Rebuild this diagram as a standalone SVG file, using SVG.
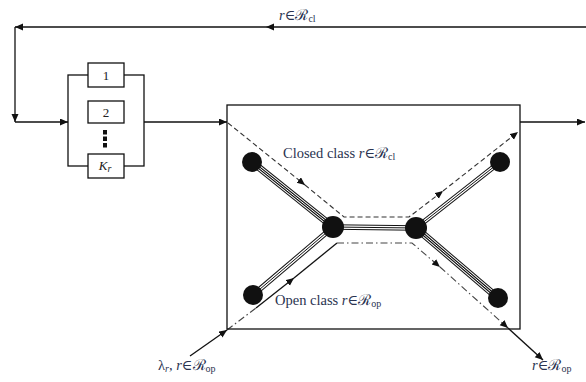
<svg xmlns="http://www.w3.org/2000/svg" width="586" height="382" viewBox="0 0 586 382">
<style>
.ln{fill:none;stroke:#111;stroke-width:1.3}
.dash{fill:none;stroke:#333;stroke-width:1.1;stroke-dasharray:5 3}
.dd{fill:none;stroke:#444;stroke-width:1.1;stroke-dasharray:7 3 1.5 3}
.box{fill:#fff;stroke:#111;stroke-width:1.3}
.nd{fill:#111}
.t{font-family:"Liberation Serif","DejaVu Serif",serif;font-size:14.5px;fill:#2a3350}
.bt{font-family:"Liberation Serif","DejaVu Serif",serif;font-size:13px;fill:#222;text-anchor:middle}
.sc{font-family:"DejaVu Serif",serif;font-size:15px}
.sub{font-size:10px}
.k4a{stroke:#111;stroke-width:7}.k4b{stroke:#fff;stroke-width:5}.k4c{stroke:#111;stroke-width:3}.k4d{stroke:#fff;stroke-width:1}
.k3a{stroke:#111;stroke-width:5.4}.k3b{stroke:#fff;stroke-width:3.4}.k3c{stroke:#111;stroke-width:1}
</style>
<defs>
<marker id="ar" markerUnits="userSpaceOnUse" markerWidth="9" markerHeight="8" refX="8" refY="3.5" orient="auto">
<path d="M0,0 L8,3.5 L0,7 Z" fill="#111"/>
</marker>
</defs>
<rect width="586" height="382" fill="#fff"/>

<g id="connectors">
<path class="ln" d="M586,27 L266,27" marker-end="url(#ar)"/>
<path class="ln" d="M266,27 L15,27" marker-end="url(#ar)"/>
<path class="ln" d="M15,27 L15,122" marker-end="url(#ar)"/>
<path class="ln" d="M15,122 L68,122" marker-end="url(#ar)"/>
<path class="ln" d="M144,122 L227,122" marker-end="url(#ar)"/>
<path class="ln" d="M520,122 L585,122" marker-end="url(#ar)"/>
<g>
<line class="k4a" x1="252" y1="162" x2="333" y2="227"/><line class="k4b" x1="252" y1="162" x2="333" y2="227"/><line class="k4c" x1="252" y1="162" x2="333" y2="227"/><line class="k4d" x1="252" y1="162" x2="333" y2="227"/>
<line class="k4a" x1="416" y1="228" x2="498" y2="298"/><line class="k4b" x1="416" y1="228" x2="498" y2="298"/><line class="k4c" x1="416" y1="228" x2="498" y2="298"/><line class="k4d" x1="416" y1="228" x2="498" y2="298"/>
<line class="k3a" x1="333" y1="227" x2="416" y2="228"/><line class="k3b" x1="333" y1="227" x2="416" y2="228"/><line class="k3c" x1="333" y1="227" x2="416" y2="228"/>
<line class="k3a" x1="416" y1="228" x2="500" y2="162"/><line class="k3b" x1="416" y1="228" x2="500" y2="162"/><line class="k3c" x1="416" y1="228" x2="500" y2="162"/>
<line class="k3a" x1="253" y1="295" x2="333" y2="227"/><line class="k3b" x1="253" y1="295" x2="333" y2="227"/><line class="k3c" x1="253" y1="295" x2="333" y2="227"/>
</g>
<path class="dash" d="M228,123 L305,185" marker-end="url(#ar)"/>
<path class="dash" d="M305,185 L344,217 L409,217 L443,191" marker-end="url(#ar)"/>
<path class="dash" d="M443,191 L518,132" marker-end="url(#ar)"/>
<path class="ln" d="M190,356 L227,330" marker-end="url(#ar)"/>
<path class="dd" d="M227,330 L256,308"/>
<path class="ln" d="M256,308 L294,278" marker-end="url(#ar)"/>
<path class="ln" d="M294,278 L337,243"/>
<path class="dd" d="M337,243 L412,243 L440,267" marker-end="url(#ar)"/>
<path class="dd" d="M440,267 L508,328" marker-end="url(#ar)"/>
<path class="ln" d="M508,328 L543,360" marker-end="url(#ar)"/>
</g>

<g id="servers">
<rect x="68" y="75" width="76" height="91" fill="none" stroke="#111" stroke-width="1.3"/>
<g id="server1"><rect class="box" x="88" y="63" width="36" height="24"/><text class="bt" x="106" y="80">1</text></g>
<g id="server2"><rect class="box" x="88" y="101" width="36" height="22"/><text class="bt" x="106" y="117">2</text></g>
<g id="dots"><rect x="103" y="130" width="4" height="4.5" fill="#111"/><rect x="103" y="136.5" width="4" height="4.5" fill="#111"/><rect x="103" y="143" width="4" height="4.5" fill="#111"/></g>
<g id="serverK"><rect class="box" x="88" y="154" width="36" height="24"/><text class="bt" x="105" y="170" font-style="italic">K<tspan font-size="10" dy="2">r</tspan></text></g>
</g>

<g id="network"><rect x="227" y="105" width="293" height="224" fill="none" stroke="#111" stroke-width="1.3"/></g>

<g id="n1"><circle class="nd" cx="252" cy="162" r="10"/></g>
<g id="n2"><circle class="nd" cx="333" cy="227" r="11"/></g>
<g id="n3"><circle class="nd" cx="416" cy="228" r="11"/></g>
<g id="n4"><circle class="nd" cx="500" cy="162" r="10"/></g>
<g id="n5"><circle class="nd" cx="253" cy="295" r="10"/></g>
<g id="n6"><circle class="nd" cx="498" cy="298" r="10"/></g>

<g id="labels">
<text class="t" x="279" y="20"><tspan font-style="italic">r</tspan>∈<tspan class="sc">ℛ</tspan><tspan class="sub" dy="2">cl</tspan></text>
<text class="t" x="283" y="158">Closed class <tspan font-style="italic">r</tspan>∈<tspan class="sc">ℛ</tspan><tspan class="sub" dy="2">cl</tspan></text>
<text class="t" x="275" y="305">Open class <tspan font-style="italic">r</tspan>∈<tspan class="sc">ℛ</tspan><tspan class="sub" dy="2">op</tspan></text>
<text class="t" x="158" y="370">λ<tspan class="sub" dy="2" font-style="italic">r</tspan><tspan dy="-2">, </tspan><tspan font-style="italic">r</tspan>∈<tspan class="sc">ℛ</tspan><tspan class="sub" dy="2">op</tspan></text>
<text class="t" x="532" y="370"><tspan font-style="italic">r</tspan>∈<tspan class="sc">ℛ</tspan><tspan class="sub" dy="2">op</tspan></text>
</g>
</svg>
